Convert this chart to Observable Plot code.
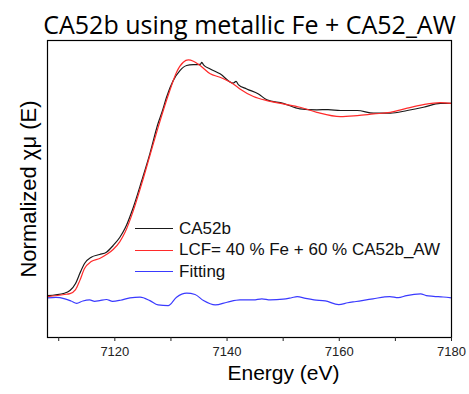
<!DOCTYPE html>
<html>
<head>
<meta charset="utf-8">
<script src="https://cdn.jsdelivr.net/npm/d3@7"></script>
<script src="https://cdn.jsdelivr.net/npm/@observablehq/plot@0.6"></script>
<style>
  body { margin: 0; background: #fff; }
  #wrap { position: relative; width: 469px; height: 394px; }
  #legend { position: absolute; left: 135px; top: 218px; font-family: "Liberation Sans", Arial, sans-serif; font-size: 17px; color: #111; }
  #legend .row { display: flex; align-items: center; height: 21.5px; }
  #legend .sw { width: 38px; height: 0; margin-right: 6px; }
</style>
</head>
<body>
<div id="wrap"></div>
<script>
const title = "CA52b using metallic Fe + CA52_AW";
const xLabel = "Energy (eV)";
const yLabel = "Normalized χμ (E)";
const seriesNames = ["CA52b", "LCF= 40 % Fe + 60 % CA52b_AW", "Fitting"];
const seriesColors = ["#1a1a1a", "#ff2a2a", "#3a3aff"];
const xTicks = [7110, 7120, 7130, 7140, 7150, 7160, 7170, 7180];

const energySample = [7108, 7111, 7112, 7113, 7113.75, 7114.6, 7115.8, 7117.3, 7118.5, 7119.7, 7120.9, 7121.8, 7123.3, 7124.8, 7126.25, 7127.7, 7128.5, 7129.2, 7130.4, 7131.6, 7132.8, 7134, 7135.2, 7135.5, 7135.8, 7137, 7138.75, 7141.1, 7141.6, 7142, 7143.5, 7145.6, 7147.1, 7150, 7153, 7156, 7158, 7160.2, 7163.2, 7166.1, 7169.1, 7172.1, 7175, 7178, 7180];
const muSample = [0.0, 0.013, 0.028, 0.067, 0.122, 0.178, 0.213, 0.228, 0.241, 0.278, 0.324, 0.372, 0.491, 0.639, 0.789, 0.956, 1.028, 1.10, 1.194, 1.25, 1.278, 1.283, 1.284, 1.295, 1.282, 1.259, 1.232, 1.18, 1.19, 1.172, 1.148, 1.12, 1.087, 1.068, 1.037, 1.032, 1.033, 1.028, 1.028, 1.013, 1.013, 1.028, 1.046, 1.068, 1.068];

const energyFit = [7108, 7111, 7112, 7113, 7113.75, 7114.6, 7115.8, 7117.3, 7118.5, 7119.7, 7120.9, 7121.8, 7123.3, 7124.8, 7126.25, 7127.7, 7129.8, 7131, 7132.2, 7133.1, 7134, 7135.2, 7137, 7138.75, 7141.1, 7142.3, 7144.7, 7147.1, 7150, 7153, 7156, 7160.2, 7163.2, 7166.1, 7169.1, 7172.1, 7175, 7178, 7180];
const muFit = [-0.006, 0.006, 0.011, 0.033, 0.083, 0.15, 0.189, 0.206, 0.228, 0.256, 0.30, 0.35, 0.472, 0.622, 0.778, 0.933, 1.139, 1.241, 1.296, 1.309, 1.302, 1.278, 1.232, 1.213, 1.176, 1.148, 1.106, 1.083, 1.065, 1.046, 1.018, 0.994, 1.0, 1.009, 1.018, 1.041, 1.061, 1.072, 1.068];

const energyResid = [7108, 7109.5, 7111.1, 7112.2, 7113.2, 7114.3, 7115.5, 7116.4, 7117.3, 7118.5, 7119.6, 7121, 7122.7, 7124.5, 7126.25, 7127.7, 7129.5, 7131, 7132.8, 7134.3, 7135.8, 7137.9, 7140, 7142.3, 7144.7, 7146.2, 7147.7, 7150, 7151.5, 7152.5, 7154, 7155.5, 7157.5, 7159.9, 7161.5, 7163, 7166, 7169, 7170.5, 7172, 7174.5, 7175.5, 7176.8, 7178.5, 7180];
const muResid = [-0.013, -0.01, -0.018, -0.03, -0.043, -0.03, -0.024, -0.032, -0.028, -0.022, -0.032, -0.026, -0.013, -0.009, -0.028, -0.052, -0.056, -0.009, 0.013, 0.006, -0.028, -0.052, -0.037, -0.024, -0.024, -0.018, -0.024, -0.02, -0.012, -0.006, -0.016, -0.024, -0.03, -0.05, -0.04, -0.033, -0.018, -0.006, -0.012, 0.0, 0.009, 0.0, -0.004, -0.008, -0.013];

const rows = [];
energySample.forEach((e, i) => rows.push({E: e, mu: muSample[i], s: seriesNames[0]}));
energyFit.forEach((e, i) => rows.push({E: e, mu: muFit[i], s: seriesNames[1]}));
energyResid.forEach((e, i) => rows.push({E: e, mu: muResid[i], s: seriesNames[2]}));

const chart = Plot.plot({
  width: 469,
  height: 394,
  marginLeft: 47,
  marginRight: 18,
  marginTop: 40,
  marginBottom: 57,
  style: {fontFamily: "'Liberation Sans', Arial, sans-serif", background: "#fff"},
  x: {domain: [7108, 7180]},
  y: {domain: [-0.233, 1.417], axis: null},
  color: {domain: seriesNames, range: seriesColors},
  marks: [
    Plot.line(rows, {x: "E", y: "mu", z: "s", stroke: "s", strokeWidth: 1.2, curve: "monotone-x"}),
    Plot.frame({stroke: "#000", strokeWidth: 1.2}),
    Plot.axisX({ticks: xTicks, tickSize: 4, tickFormat: d => d % 20 === 0 ? String(d) : "", label: null, fontSize: 13, tickPadding: 5, color: "#222"}),
    Plot.text([xLabel], {frameAnchor: "bottom", dx: 34, dy: 42, fontSize: 21, fill: "#000", text: d => d}),
    Plot.text([yLabel], {frameAnchor: "left", textAnchor: "middle", dx: -19, rotate: -90, fontSize: 22, fill: "#000", text: d => d}),
    Plot.text([title], {frameAnchor: "top", dy: -24, fontSize: 25, fill: "#000", fontFamily: "'Open Sans', sans-serif", text: d => d})
  ]
});
const wrap = document.getElementById("wrap");
wrap.appendChild(chart);
const leg = document.createElement("div");
leg.id = "legend";
seriesNames.forEach((n, i) => {
  const r = document.createElement("div");
  r.className = "row";
  const sw = document.createElement("span");
  sw.className = "sw";
  sw.style.borderTop = `1.5px solid ${seriesColors[i]}`;
  const t = document.createElement("span");
  t.textContent = n;
  r.appendChild(sw); r.appendChild(t);
  leg.appendChild(r);
});
wrap.appendChild(leg);
</script>
</body>
</html>
